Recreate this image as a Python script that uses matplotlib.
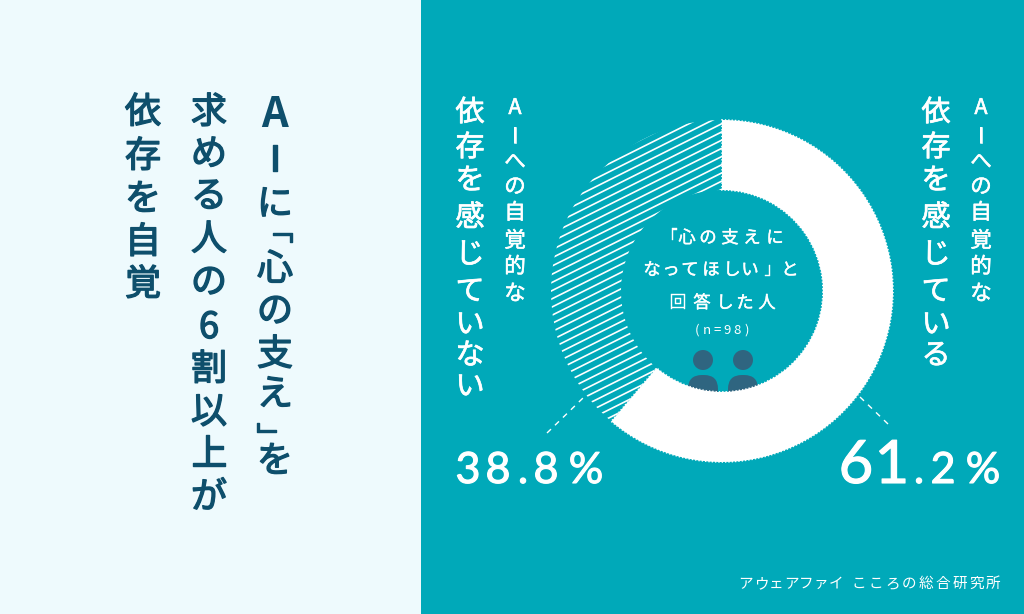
import numpy as np
import matplotlib
matplotlib.use('Agg')
import matplotlib.pyplot as plt
import matplotlib.patheffects as pe
from matplotlib.patches import Circle, FancyBboxPatch, Rectangle

plt.rcParams['font.family'] = ['Noto Sans CJK JP', 'DejaVu Sans']

# chart values
shares = [61.2, 38.8]
share_labels = ['61.2%', '38.8%']

# texts
title_lines = ['AIに\ufe41心の支え\ufe42を', '求める人の6割以上が', '依存を自覚']
label_small = 'AIへの自覚的な'
label_yes = '依存を感じている'
label_no = '依存を感じていない'
center_lines = ['「心の支えに', 'なってほしい」と', '回答した人', '(n=98)']
source_a = 'アウェアファイ'
source_b = 'こころの総合研究所'

BG_LEFT = '#eefafd'
BG_RIGHT = '#00a9b9'
NAVY = '#0e4f6c'
ICON = '#2f6580'
WHITE = '#ffffff'


def put_chars(ax, text, xs, ys, stroke=0.0, **kw):
    for ch, x, y in zip(text, xs, ys):
        t = ax.text(x, y, ch, ha='center', va='center', **kw)
        if stroke:
            t.set_path_effects([pe.withStroke(linewidth=stroke, foreground=kw['color'])])


fig = plt.figure(figsize=(10.24, 6.14), dpi=100)

bg = fig.add_axes([0, 0, 1, 1])
bg.set_xlim(0, 1024)
bg.set_ylim(614, 0)
bg.axis('off')
bg.add_patch(Rectangle((0, 0), 421, 614, color=BG_LEFT, lw=0))
bg.add_patch(Rectangle((421, 0), 603, 614, color=BG_RIGHT, lw=0))

# title, written top to bottom
title_kw = dict(fontsize=26, color=NAVY, stroke=1.0)
col1_y = [115, 161, 205, 232, 270, 312, 355, 395, 438, 462]
col1_x = [275, 275, 275, 279, 275, 275, 275, 275, 270, 275]
bg.text(col1_x[0], col1_y[0], title_lines[0][0], ha='center', va='center',
        fontsize=30, color=NAVY, weight='bold')
for i in (1, 2, 4, 5, 6, 7, 9):
    put_chars(bg, title_lines[0][i], [col1_x[i]], [col1_y[i]], **title_kw)
for i in (3, 8):
    put_chars(bg, title_lines[0][i], [col1_x[i]], [col1_y[i]], fontsize=19, color=NAVY, stroke=1.0)
col2_y = [113, 155, 197, 240, 283, 328, 370, 413, 455, 498]
put_chars(bg, title_lines[1], [209] * 10, col2_y, **title_kw)
col3_y = [113, 157, 200, 243, 285]
put_chars(bg, title_lines[2], [143] * 5, col3_y, **title_kw)

# vertical labels next to the ring
small_y = [108, 137, 162, 187, 213, 241, 267, 294]
big_y = [113, 148, 181, 218, 255, 292, 325, 356, 387]
small_kw = dict(fontsize=15.5, color=WHITE, stroke=0.4)
big_kw = dict(fontsize=21, color=WHITE, stroke=0.5)
put_chars(bg, label_small, [981] * 8, small_y, **small_kw)
put_chars(bg, label_yes, [936] * 8, big_y, **big_kw)
put_chars(bg, label_small, [515] * 8, small_y, **small_kw)
put_chars(bg, label_no, [470] * 9, big_y, **big_kw)

# centre text
mid_kw = dict(fontsize=12.5, color=WHITE, stroke=0.3)
put_chars(bg, center_lines[0], [669, 687, 708, 730, 752, 775], [238] * 6, **mid_kw)
put_chars(bg, center_lines[1], [652, 671, 690, 711, 732, 750, 773, 790], [270] * 8, **mid_kw)
put_chars(bg, center_lines[2], [678, 702, 725, 745, 767], [303] * 5, **mid_kw)
put_chars(bg, center_lines[3], [697, 707, 717, 727, 737, 747], [330] * 6, fontsize=9.5, color=WHITE)

# percent figures
num_font = 'Lato'
num_fx = [pe.withStroke(linewidth=0.8, foreground=WHITE)]
left_x = [468, 498, 523, 546, 586]
for ch, x in zip(share_labels[1], left_x):
    bg.text(x, 483, ch, ha='center', va='baseline', family=num_font, fontsize=31,
            color=WHITE, path_effects=num_fx)
right_x = [856, 892, 919, 943, 983]
for i, (ch, x) in enumerate(zip(share_labels[0], right_x)):
    bg.text(x, 483, ch, ha='center', va='baseline', family=num_font,
            fontsize=43 if i < 2 else 31, color=WHITE, path_effects=num_fx)

# leaders
bg.plot([547, 583], [433, 398], color=WHITE, lw=1, ls=(0, (4, 4)))
bg.plot([860, 888], [397, 424], color=WHITE, lw=1, ls=(0, (4, 4)))

# source
put_chars(bg, source_a, [746 + 15 * i for i in range(7)], [584] * 7, fontsize=10.5, color=WHITE)
put_chars(bg, source_b, [859 + 16.8 * i for i in range(9)], [584] * 9, fontsize=10.5, color=WHITE)

# ring, axes in pixels around the centre
cx, cy, half = 722, 291, 200
ring = fig.add_axes([(cx - half) / 1024, (614 - cy - half) / 614, 2 * half / 1024, 2 * half / 614])
ring.patch.set_alpha(0)
wedges, _ = ring.pie(shares, colors=[WHITE, 'none'], startangle=90, counterclock=False,
                     radius=171, wedgeprops={'width': 70, 'linewidth': 0, 'zorder': 5})
ring.set_xlim(-half, half)
ring.set_ylim(-half, half)

# rough edge on the white part
wedges[0].set_edgecolor(WHITE)
wedges[0].set_linewidth(1.2)
wedges[0].set_linestyle((0, (0.8, 1.2)))

for c in np.arange(-300, 300, 8.2):
    line, = ring.plot([-200, 200], [-100 + c, 100 + c], color=WHITE, lw=1.2, zorder=3)
    line.set_clip_path(wedges[1])

# two people, partly hidden by the ring
for px in (-19, 21):
    ring.add_patch(Circle((px, -69), 10, color=ICON, lw=0, zorder=2))
    ring.add_patch(FancyBboxPatch((px - 15 + 14, -118), 2, 20, boxstyle='round,pad=14',
                                  color=ICON, lw=0, zorder=2))

fig.savefig('out.png', dpi=100)
